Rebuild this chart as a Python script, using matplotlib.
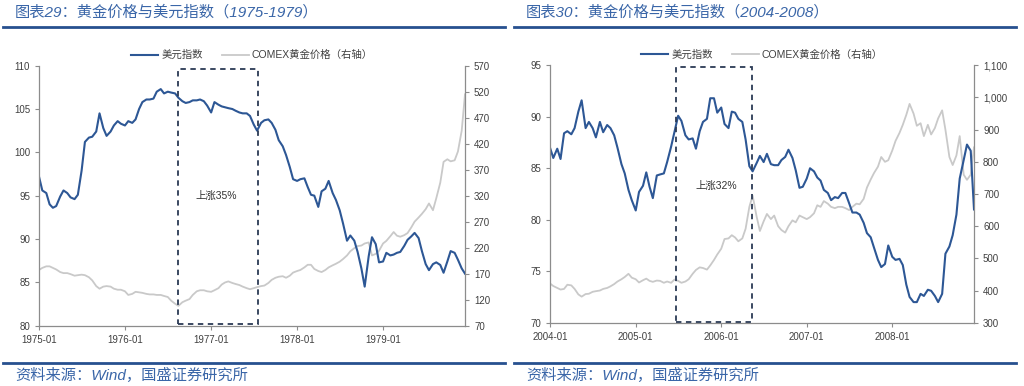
import pandas as pd
import matplotlib
matplotlib.use('Agg')
import matplotlib.pyplot as plt
import matplotlib.dates as mdates
from matplotlib.patches import Rectangle
from matplotlib.lines import Line2D
from matplotlib.ticker import FuncFormatter, MultipleLocator, FixedLocator

plt.rcParams['font.family'] = ['Liberation Sans', 'Noto Sans CJK SC']

# ---- 1975-1979 (semi-monthly) ----
dates_70s = pd.date_range('1975-01-01', periods=120, freq='SMS')
usd_70s = [97.2, 95.6, 95.3, 94.0, 93.6, 93.8, 94.9, 95.6, 95.3, 94.8,
           94.6, 95.1, 97.9, 101.2, 101.7, 101.8, 102.4, 104.5, 102.8, 101.9,
           102.4, 103.1, 103.6, 103.3, 103.1, 103.6, 103.4, 103.8, 105.0, 105.8,
           106.1, 106.1, 106.2, 107.0, 107.3, 106.8, 107.0, 106.9, 106.8, 106.3,
           105.9, 105.7, 105.8, 106.0, 106.0, 106.1, 105.9, 105.4, 104.6, 105.8,
           105.5, 105.3, 105.2, 105.1, 105.0, 104.8, 104.6, 104.5, 104.5, 104.2,
           103.2, 102.5, 103.4, 103.7, 103.8, 103.4, 102.6, 101.4, 100.7, 99.7,
           98.3, 96.9, 96.7, 96.9, 97.0, 96.0, 95.1, 95.0, 93.7, 95.5,
           95.8, 96.7, 95.3, 94.5, 93.3, 91.8, 89.8, 90.4, 89.8, 88.5,
           86.6, 84.5, 88.0, 90.2, 89.4, 87.3, 87.4, 88.4, 88.1, 88.2,
           88.4, 88.5, 89.2, 89.9, 90.3, 90.7, 90.1, 88.6, 87.1, 86.4,
           87.1, 87.3, 87.0, 86.1, 87.4, 88.6, 88.4, 87.6, 86.6, 86.0]
gold_70s = [177, 181, 184, 184, 181, 178, 173, 171, 171, 169,
            166, 167, 168, 167, 163, 157, 146, 141, 145, 146,
            145, 141, 139, 139, 136, 129, 131, 135, 134, 133,
            131, 130, 130, 129, 129, 127, 125, 118, 112, 108,
            115, 118, 121, 129, 136, 138, 138, 136, 135, 138,
            142, 149, 153, 155, 152, 150, 148, 145, 142, 140,
            142, 144, 146, 147, 152, 158, 162, 164, 165, 162,
            166, 172, 175, 177, 182, 187, 187, 179, 175, 173,
            177, 182, 186, 189, 193, 198, 205, 213, 219, 223,
            224, 228, 230, 205, 208, 214, 228, 233, 242, 250,
            243, 241, 244, 248, 259, 270, 278, 285, 294, 305,
            292, 315, 345, 385, 390, 386, 388, 405, 445, 515]

# ---- 2004-2008 (semi-monthly) ----
dates_00s = pd.date_range('2004-01-01', periods=120, freq='SMS')
usd_00s = [87.0, 86.0, 86.9, 85.9, 88.4, 88.6, 88.3, 88.9, 90.5, 91.6,
           88.9, 89.5, 88.9, 88.0, 89.5, 88.5, 89.2, 88.9, 88.2, 87.0,
           85.4, 84.5, 82.9, 81.9, 80.9, 82.7, 83.3, 84.6, 83.2, 82.1,
           84.3, 84.4, 84.5, 85.6, 87.1, 88.5, 90.1, 89.6, 88.2, 87.8,
           87.9, 86.9, 88.6, 89.5, 89.8, 91.8, 91.8, 90.4, 90.9, 89.3,
           88.9, 90.5, 90.4, 89.8, 89.5, 87.8, 85.2, 84.7, 85.5, 86.2,
           85.6, 86.4, 85.4, 85.3, 85.3, 85.8, 86.1, 86.8, 86.0, 84.8,
           83.1, 83.2, 84.0, 85.0, 84.7, 84.1, 83.8, 82.9, 82.6, 81.9,
           82.2, 82.1, 82.6, 82.6, 81.6, 80.7, 80.7, 80.5, 79.7, 78.7,
           78.3, 77.3, 76.1, 75.4, 75.7, 77.5, 76.4, 76.1, 76.2, 75.6,
           73.7, 72.5, 72.0, 72.0, 72.8, 72.6, 73.2, 73.1, 72.6, 72.0,
           72.8, 76.7, 77.4, 78.5, 80.5, 84.0, 85.8, 87.3, 86.7, 81.0]
gold_00s = [422, 414, 408, 403, 405, 418, 416, 405, 388, 381,
            389, 390, 396, 398, 400, 405, 408, 413, 420, 428,
            435, 442, 452, 440, 435, 425, 432, 437, 430, 427,
            431, 430, 424, 428, 424, 434, 430, 424, 428, 435,
            452, 464, 472, 470, 465, 478, 495, 512, 530, 560,
            562, 572, 565, 553, 562, 592, 660, 695, 630, 585,
            615, 638, 622, 633, 600, 588, 580, 600, 618, 612,
            633, 628, 622, 628, 640, 665, 660, 678, 670, 660,
            656, 660, 660, 656, 650, 660, 670, 668, 685, 720,
            745, 765, 785, 815, 800, 805, 835, 865, 890, 915,
            946, 980, 950, 912, 920, 880, 915, 885, 905, 935,
            960, 900, 815, 790, 820, 880, 760, 744, 760, 845]

gold_ticks_70s = list(range(70, 571, 50))
gold_ticks_00s = list(range(300, 1101, 100))

# shaded windows and notes
box_70s = ('1976-08-12', '1977-07-18', 80.15, 109.6)
box_00s = ('2005-06-24', '2006-05-12', 70.1, 94.8)
note_70s = ('1977-01-22', 95.0, '上涨35%')
note_00s = ('2005-12-13', 83.3, '上涨32%')

BLUE = '#2d5795'
GRAY = '#c9c9c9'
AXC = '#8c8c8c'
TXT = '#404040'
TITLE_C = '#3a66a8'
RULE_C = '#27508f'

fig = plt.figure(figsize=(10.24, 3.86), dpi=100)
W, H = 1024, 386


def panel(px, title, dates, usd, gold, ylim, ystep, gticks, box, note, fmt2):
    x0, x1, ytop, ybot = px
    ax = fig.add_axes([x0 / W, 1 - ybot / H, (x1 - x0) / W, (ybot - ytop) / H])
    ax2 = ax.twinx()
    ax.set_zorder(ax2.get_zorder() + 1)
    ax.patch.set_visible(False)

    l1, = ax.plot(dates, usd, color=BLUE, lw=1.5, label='美元指数')
    l2, = ax2.plot(dates, gold, color=GRAY, lw=1.3, label='COMEX黄金价格（右轴）')

    ax.set_xlim(dates[0], dates[-1])
    ax.set_ylim(*ylim)
    ax2.set_ylim(gticks[0], gticks[-1])
    ax.yaxis.set_major_locator(MultipleLocator(ystep))
    ax2.yaxis.set_major_locator(FixedLocator(gticks))
    ax2.yaxis.set_major_formatter(FuncFormatter(fmt2))
    ax.xaxis.set_major_locator(mdates.YearLocator())
    ax.xaxis.set_major_formatter(mdates.DateFormatter('%Y-%m'))

    for a in (ax, ax2):
        a.spines['top'].set_visible(False)
        for s in ('left', 'right', 'bottom'):
            a.spines[s].set_color(AXC)
            a.spines[s].set_linewidth(0.9)
        a.tick_params(labelsize=7, colors=TXT, length=3, width=0.8, pad=3.5)
        a.tick_params(color=AXC)
    ax.spines['right'].set_visible(False)
    ax2.spines['left'].set_visible(False)
    ax2.spines['bottom'].set_visible(False)

    b0, b1, bl, bh = box
    xa = mdates.date2num(pd.Timestamp(b0))
    xb = mdates.date2num(pd.Timestamp(b1))
    ax.add_patch(Rectangle((xa, bl), xb - xa, bh - bl, fill=False,
                           edgecolor='#2b3a55', lw=1.3, ls=(0, (3, 2.5)),
                           clip_on=False, zorder=5))
    nd, nv, nt = note
    ax.text(pd.Timestamp(nd), nv, nt, ha='center', va='center',
            fontsize=7.5, color='#333333')

    ax.legend([l1, l2], [l1.get_label(), l2.get_label()], loc='center',
              bbox_to_anchor=(0.5, 1 + 10.5 / (ybot - ytop)), ncol=2,
              frameon=False, fontsize=7.5, handlelength=2.6,
              handletextpad=0.3, columnspacing=1.8,
              labelcolor=TXT)

    # header / footer
    fig.text((x0 - 24) / W, 1 - 12 / H, title, color=TITLE_C, fontsize=11,
             style='italic', va='center', ha='left')
    fig.add_artist(Line2D([(x0 - 36) / W, (x0 + 466) / W], [1 - 26.7 / H] * 2,
                          color=RULE_C, lw=2))
    fig.add_artist(Line2D([(x0 - 36) / W, (x0 + 466) / W], [1 - 363.3 / H] * 2,
                          color=RULE_C, lw=2))
    fig.text((x0 - 24) / W, 1 - 375 / H, '资料来源：Wind，国盛证券研究所',
             color=TITLE_C, fontsize=11, style='italic', va='center', ha='left')


panel((39, 465, 65.7, 325.6), '图表29：黄金价格与美元指数（1975-1979）',
      dates_70s, usd_70s, gold_70s, (80, 110), 5, gold_ticks_70s,
      box_70s, note_70s, lambda v, p: f'{v:.0f}')
panel((550, 974, 65.3, 322.7), '图表30：黄金价格与美元指数（2004-2008）',
      dates_00s, usd_00s, gold_00s, (70, 95), 5, gold_ticks_00s,
      box_00s, note_00s, lambda v, p: f'{v:,.0f}')

fig.savefig('out.png', dpi=100)
